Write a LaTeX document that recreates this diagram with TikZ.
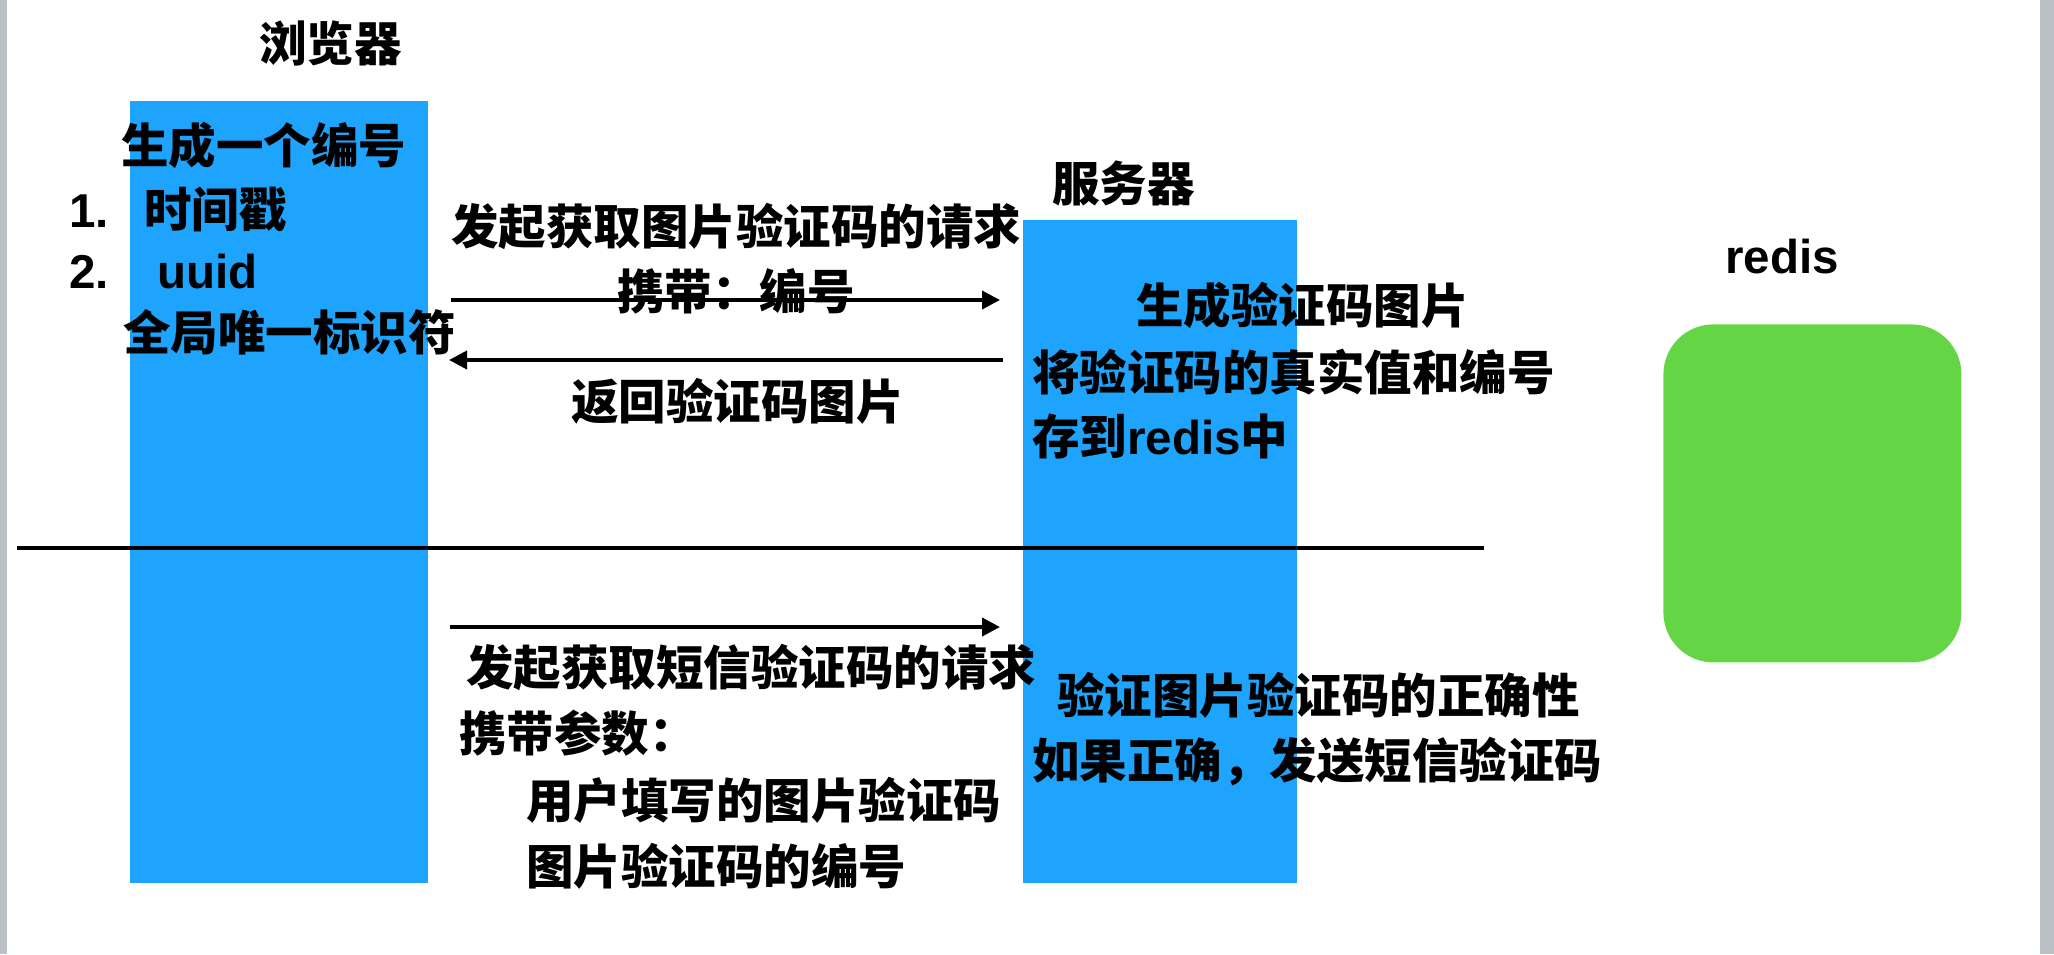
\documentclass[tikz,border=0pt]{standalone}
\usepackage{fontspec}
\setmainfont{Liberation Sans}
\newfontfamily\cjk{Noto Sans CJK SC}
\usetikzlibrary{arrows.meta}
\definecolor{boxblue}{RGB}{30,164,252}
\definecolor{boxgreen}{RGB}{100,214,69}
\definecolor{edgegray}{RGB}{188,192,199}
\begin{document}
\begin{tikzpicture}[x=0.5pt,y=-0.5pt,
  lbl/.style={anchor=base west,inner sep=0pt,font=\fontsize{23.75}{28}\selectfont\bfseries\cjk},
  lat/.style={anchor=base west,inner sep=0pt,font=\fontsize{23.75}{28}\selectfont\bfseries\rmfamily},
  lane/.style={fill=boxblue,inner sep=0pt,anchor=north west},
  arr/.style={line width=1.9pt,-{Triangle[length=9pt,width=9pt]}},
  divider/.style={line width=2pt}]
\useasboundingbox (0,0) rectangle (2054,954);
\fill[white] (0,0) rectangle (2054,954);
\fill[edgegray] (0,0) rectangle (7,954);
\fill[edgegray] (2040,0) rectangle (2054,954);

% lanes
\node[lane,minimum width=149pt,minimum height=391pt] (browser) at (130,101) {};
\node[lane,minimum width=137pt,minimum height=331.5pt] (server) at (1023,220) {};
\node[fill=boxgreen,inner sep=0pt,anchor=north west,rounded corners=25pt,
      minimum width=149pt,minimum height=169pt] (redisbox) at (1663,324) {};

% titles
\node[lbl] (tbrowser) at (259,61) {浏览器};
\node[lbl] (tserver) at (1052,201) {服务器};
\node[lat] (tredis) at (1725,273) {redis};

% browser notes
\node[lbl] (b1) at (121,163) {生成一个编号};
\node[lat] (n1) at (69,227) {1.};
\node[lbl] (b2) at (144,227) {时间戳};
\node[lat] (n2) at (69,288) {2.};
\node[lat] (b3) at (157,288) {uuid};
\node[lbl] (b4) at (123,350) {全局唯一标识符};

% upper messages
\node[lbl] (m1) at (451,244) {发起获取图片验证码的请求};
\node[lbl] (m2) at (617,309) {携带：编号};
\node[lbl] (m3) at (571,419) {返回验证码图片};

% server notes upper
\node[lbl] (s1) at (1136,323) {生成验证码图片};
\node[lbl] (s2) at (1032,390) {将验证码的真实值和编号};
\node[lbl] (s3) at (1032,454) {存到{\rmfamily redis}中};

% lower messages
\node[lbl] (m4) at (466,685) {发起获取短信验证码的请求};
\node[lbl] (m5) at (459,751) {携带参数：};
\node[lbl] (m6) at (526,818) {用户填写的图片验证码};
\node[lbl] (m7) at (526,884) {图片验证码的编号};

% server notes lower
\node[lbl] (s4) at (1057,713) {验证图片验证码的正确性};
\node[lbl] (s5) at (1032,778) {如果正确，发送短信验证码};

% connectors
\coordinate (a1s) at (451,300);
\coordinate (a1e) at (1000,300);
\coordinate (a2s) at (1003,360);
\coordinate (a2e) at (449,360);
\coordinate (a3s) at (450,627);
\coordinate (a3e) at (1000,627);
\draw[arr] (a1s) -- (a1e);
\draw[arr] (a2s) -- (a2e);
\draw[arr] (a3s) -- (a3e);

\coordinate (divL) at (17,548);
\coordinate (divR) at (1484,548);
\draw[divider] (divL) -- (divR);
\end{tikzpicture}
\end{document}
